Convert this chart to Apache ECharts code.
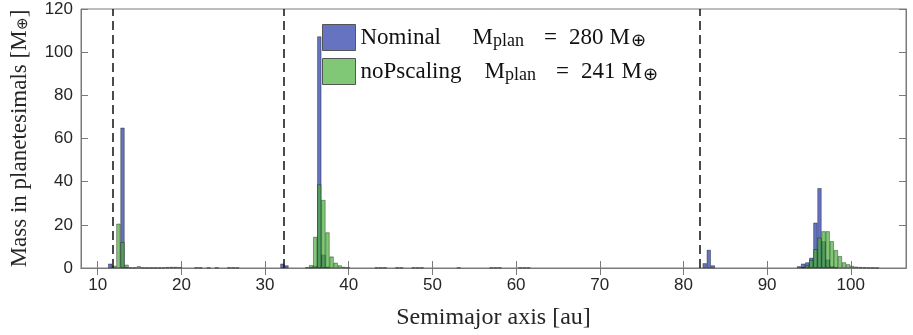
<!DOCTYPE html>
<html>
<head>
<meta charset="utf-8">
<script src="https://cdn.jsdelivr.net/npm/echarts@6/dist/echarts.min.js"></script>
<style>
html,body{margin:0;padding:0;background:#fff;}
#main{width:913px;height:335px;}
</style>
</head>
<body>
<div id="main"></div>
<script>
// ---- data ----
const seriesNames = ['Nominal', 'noPscaling'];
const planetMass = [280, 241];
const binWidth = 0.49; // au
const nominalCenters = [11.49, 12.96, 13.45, 16.39, 21.78, 32.07, 32.56, 35.50, 35.99, 36.48, 36.97, 37.46,
  43.34, 57.06, 60.49, 82.54, 83.03, 83.52, 93.81, 94.30, 94.79, 95.28, 95.77, 96.26, 96.75, 97.24, 97.73, 98.22];
const nominalMass = [2.0, 65.0, 0.4, 0.15, 0.2, 2.0, 1.2, 0.3, 1.0, 107.3, 6.2, 0.6,
  0.2, 0.2, 0.2, 2.2, 8.4, 1.2, 0.8, 2.0, 2.6, 4.7, 21.0, 37.0, 12.4, 3.9, 0.8, 0.3];
const noPCenters = [11.98, 12.47, 12.96, 13.45, 13.94, 14.43, 14.92, 15.41, 15.90, 16.88, 17.37, 17.86, 18.35,
  18.84, 19.33, 19.82, 22.27, 23.25, 24.23, 25.70, 26.19, 26.68, 35.01, 35.50, 35.99, 36.48, 36.97, 37.46,
  37.95, 38.44, 38.93, 39.42, 39.91, 43.83, 44.32, 45.79, 46.28, 47.75, 48.24, 48.73, 53.14, 57.55, 58.04,
  60.98, 61.47, 94.30, 94.79, 95.28, 95.77, 96.26, 96.75, 97.24, 97.73, 98.22, 98.71, 99.20, 99.69, 100.18,
  100.67, 101.16, 101.65, 102.14, 102.63, 103.12];
const noPMass = [1.0, 20.5, 12.0, 1.5, 0.2, 0.2, 0.8, 0.15, 0.15, 0.15, 0.15, 0.2, 0.4,
  0.5, 0.5, 0.3, 0.2, 0.2, 0.2, 0.2, 0.2, 0.2, 0.3, 1.3, 14.4, 38.7, 31.5, 16.5,
  5.3, 2.4, 1.2, 0.5, 0.2, 0.2, 0.2, 0.2, 0.2, 0.2, 0.2, 0.2, 0.2, 0.2, 0.2,
  0.2, 0.2, 0.4, 1.3, 3.7, 8.7, 14.0, 17.0, 17.0, 12.4, 8.3, 5.5, 2.6, 1.7, 0.9,
  0.6, 0.4, 0.3, 0.2, 0.15, 0.1];
const planetPositions = [11.75, 32.25, 81.95];
const xTicks = [10, 20, 30, 40, 50, 60, 70, 80, 90, 100];
const xRange = [8, 106.6];
const yRange = [0, 120];

// ---- chart ----
const grid = {left: 78, right: 7, top: 9, bottom: 59};
const plotW = 913 - grid.left - grid.right;
const barPx = binWidth * plotW / (xRange[1] - xRange[0]);

const tickFont = {fontFamily: 'Liberation Sans, Arial, sans-serif', fontSize: 17, color: '#262626'};
const serif = 'Liberation Serif, Times New Roman, serif';
const axisLineStyle = {color: '#7a7a7a', width: 1};

const subStyle = {fontFamily: serif, fontSize: 18, color: '#111', verticalAlign: 'bottom', padding: [7, 0, 0, 0]};
const legendRich = {
  n: {fontFamily: serif, fontSize: 23, color: '#111', width: 112, lineHeight: 26},
  n2: {fontFamily: serif, fontSize: 23, color: '#111', width: 124, lineHeight: 26},
  m: {fontFamily: serif, fontSize: 23, color: '#111', lineHeight: 26},
  m2: {fontFamily: serif, fontSize: 23, color: '#111', lineHeight: 26, padding: [0, 1, 0, 6]},
  e: {fontFamily: serif, fontSize: 23, color: '#111', lineHeight: 26, padding: [0, 12, 0, 20]},
  v: {fontFamily: serif, fontSize: 23, color: '#111', lineHeight: 26},
  s: subStyle
};

const chart = echarts.init(document.getElementById('main'), null, {renderer: 'canvas'});
chart.setOption({
  animation: false,
  backgroundColor: '#fff',
  grid: Object.assign({show: true, borderColor: '#7a7a7a', borderWidth: 1}, grid),
  legend: {
    orient: 'vertical', left: 322, top: 24, padding: 0,
    itemWidth: 33, itemHeight: 26, itemGap: 7,
    icon: 'rect',
    data: seriesNames,
    itemStyle: {borderColor: '#555', borderWidth: 1},
    formatter: function (name) {
      const i = seriesNames.indexOf(name);
      const tag = i === 0 ? 'n' : 'n2';
      return '{' + tag + '|' + name + '}{m|M}{s|plan}{e|=}{v|' + planetMass[i] + '}{m2|M}{s|⊕}';
    },
    textStyle: {rich: legendRich}
  },
  xAxis: [{
    type: 'value', min: xRange[0], max: xRange[1],
    name: 'Semimajor axis [au]', nameLocation: 'middle', nameGap: 38,
    nameTextStyle: {fontFamily: serif, fontSize: 24, color: '#262626'},
    axisLine: {show: true, lineStyle: axisLineStyle},
    axisTick: {show: true, inside: true, length: 7, customValues: xTicks, lineStyle: axisLineStyle},
    axisLabel: Object.assign({customValues: xTicks, margin: 9}, tickFont),
    splitLine: {show: false}
  }, {
    type: 'value', min: xRange[0], max: xRange[1], position: 'top',
    axisLine: {show: true, lineStyle: axisLineStyle},
    axisTick: {show: true, inside: true, length: 7, customValues: xTicks, lineStyle: axisLineStyle},
    axisLabel: {show: false},
    splitLine: {show: false}
  }],
  yAxis: [{
    type: 'value', min: yRange[0], max: yRange[1], interval: 20,
    name: 'Mass in planetesimals [M{s|⊕}]', nameLocation: 'middle', nameGap: 50,
    nameTextStyle: {fontFamily: serif, fontSize: 23, color: '#262626',
      rich: {s: {fontFamily: serif, fontSize: 15, color: '#262626', verticalAlign: 'bottom', padding: [6, 0, 0, 0]}}},
    axisLine: {show: true, lineStyle: axisLineStyle},
    axisTick: {show: true, inside: true, length: 7, lineStyle: axisLineStyle},
    axisLabel: Object.assign({margin: 8}, tickFont),
    splitLine: {show: false}
  }, {
    type: 'value', min: yRange[0], max: yRange[1], interval: 20, position: 'right',
    axisLine: {show: true, lineStyle: axisLineStyle},
    axisTick: {show: true, inside: true, length: 7, lineStyle: axisLineStyle},
    axisLabel: {show: false},
    splitLine: {show: false}
  }],
  series: [{
    name: seriesNames[0], type: 'bar', barWidth: barPx, barGap: '-100%',
    itemStyle: {color: 'rgba(0,22,150,0.6)', borderColor: 'rgba(0,0,0,0.6)', borderWidth: 0.6},
    data: nominalCenters.map((c, i) => [c, nominalMass[i]]),
    z: 2
  }, {
    name: seriesNames[1], type: 'bar', barWidth: barPx, barGap: '-100%',
    itemStyle: {color: 'rgba(74,176,60,0.7)', borderColor: 'rgba(0,0,0,0.6)', borderWidth: 0.6},
    data: noPCenters.map((c, i) => [c, noPMass[i]]),
    z: 3
  }, {
    name: 'planets', type: 'line', data: [], silent: true, z: 4,
    markLine: {
      silent: true, symbol: ['none', 'none'], label: {show: false},
      lineStyle: {color: '#111', width: 1.5, type: [9, 5]},
      data: planetPositions.map(p => ({xAxis: p}))
    }
  }]
});
</script>
</body>
</html>
